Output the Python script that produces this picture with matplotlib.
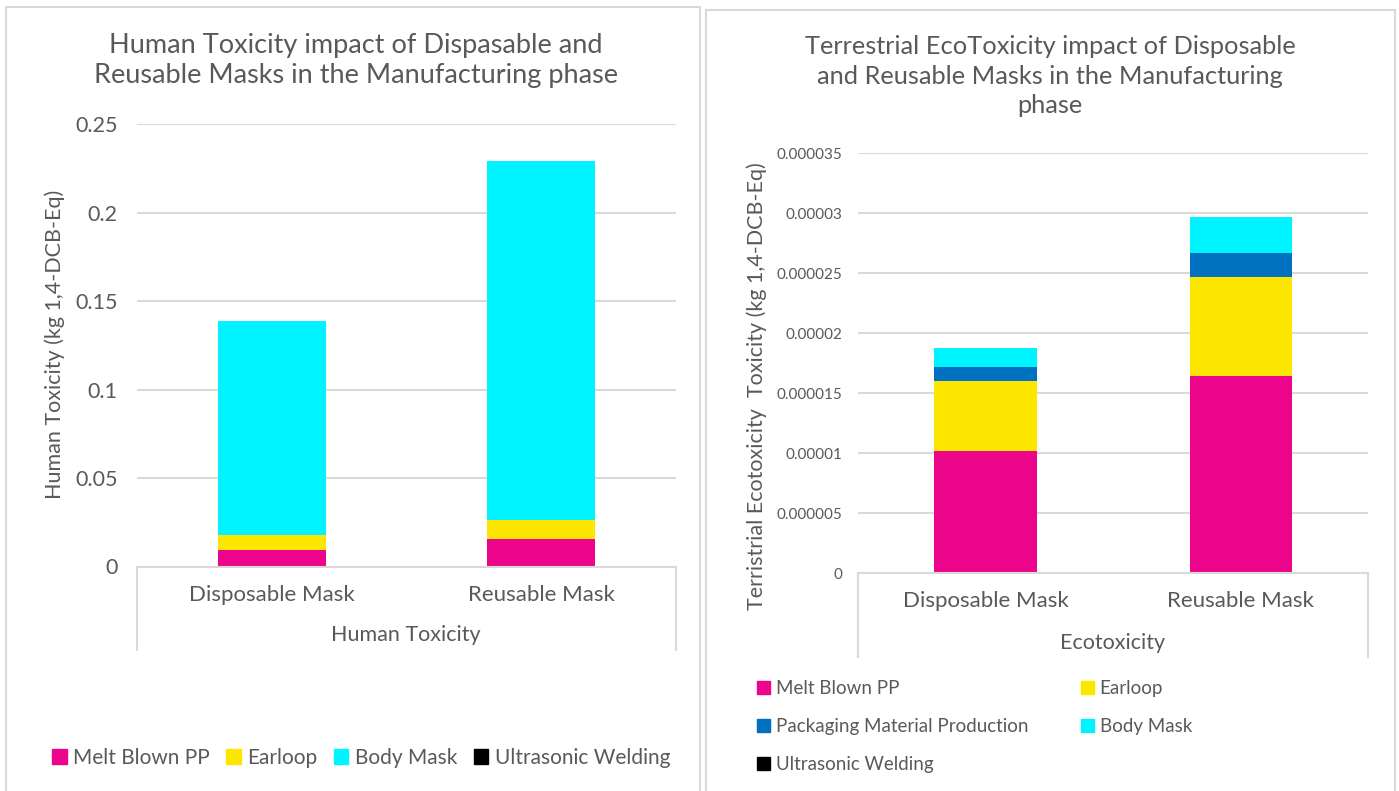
import matplotlib
matplotlib.use("Agg")
import matplotlib.pyplot as plt
from matplotlib.patches import Rectangle, Patch
from matplotlib.lines import Line2D

plt.rcParams['font.family'] = ['Lato', 'DejaVu Sans']

# ---------------- data ----------------
categories = ["Disposable Mask", "Reusable Mask"]

# Left chart: Human Toxicity (kg 1,4-DCB-Eq)
ht_melt_blown = [0.0094, 0.0156]
ht_earloop = [0.0085, 0.0106]
ht_body_mask = [0.1207, 0.2029]
ht_ultrasonic = [0.0001, 0.0001]
ht_ticks = [0, 0.05, 0.1, 0.15, 0.2, 0.25]
ht_ticklabels = ["0", "0.05", "0.1", "0.15", "0.2", "0.25"]

# Right chart: Terrestrial Ecotoxicity (kg 1,4-DCB-Eq)
et_melt_blown = [10.19e-6, 16.47e-6]
et_earloop = [5.86e-6, 8.25e-6]
et_packaging = [1.17e-6, 1.95e-6]
et_body_mask = [1.53e-6, 3.05e-6]
et_ultrasonic = [0.01e-6, 0.01e-6]
et_ticks = [0, 0.000005, 0.00001, 0.000015, 0.00002, 0.000025, 0.00003, 0.000035]
et_ticklabels = ["0", "0.000005", "0.00001", "0.000015", "0.00002",
                 "0.000025", "0.00003", "0.000035"]

C_MELT = "#EC058A"
C_EAR = "#FDE700"
C_PACK = "#0070C0"
C_BODY = "#00F4FF"
C_ULTRA = "#000000"
TXT = "#595959"
GRID = "#D9D9D9"

W, H = 1399, 791
fig = plt.figure(figsize=(W / 100, H / 100), dpi=100)


def fx(x):
    return x / W


def fy(y):
    return 1 - y / H


def add_axes_px(l, t, r, b):
    return fig.add_axes([fx(l), fy(b), (r - l) / W, (b - t) / H])


# panel borders
fig.add_artist(Rectangle((fx(6), fy(800)), (700 - 6) / W, (800 - 7) / H,
                         transform=fig.transFigure, fill=False,
                         edgecolor=GRID, lw=1.5))
fig.add_artist(Rectangle((fx(706), fy(800)), (1395 - 706) / W, (800 - 10) / H,
                         transform=fig.transFigure, fill=False,
                         edgecolor=GRID, lw=1.5))


def style_axes(ax, ticks, ticklabels, ymax, pad, fs):
    ax.set_ylim(0, ymax)
    ax.set_xlim(-0.5, 1.5)
    ax.set_yticks(ticks)
    ax.set_yticklabels(ticklabels)
    ax.tick_params(axis='y', length=0, pad=pad, labelsize=fs, labelcolor=TXT)
    ax.set_xticks([0, 1])
    ax.set_xticklabels(categories)
    ax.tick_params(axis='x', length=0, labelsize=16, labelcolor=TXT, pad=13)
    for s in ['top', 'right', 'left']:
        ax.spines[s].set_visible(False)
    ax.spines['bottom'].set_color(GRID)
    ax.spines['bottom'].set_linewidth(1.5)
    ax.grid(axis='y', color=GRID, lw=1.5)
    ax.set_axisbelow(True)


# ---------------- left chart ----------------
axL = add_axes_px(137, 124.3, 676, 566.5)
x = [0, 1]
b = [0, 0]
for vals, col in [(ht_melt_blown, C_MELT), (ht_earloop, C_EAR),
                  (ht_body_mask, C_BODY), (ht_ultrasonic, C_ULTRA)]:
    axL.bar(x, vals, bottom=b, width=0.4, color=col, lw=0)
    b = [bb + v for bb, v in zip(b, vals)]
style_axes(axL, ht_ticks, ht_ticklabels, 0.25, 14, 15.5)

for xx in (137, 676):
    fig.add_artist(Line2D([fx(xx), fx(xx)], [fy(566.5), fy(650)],
                          transform=fig.transFigure, color=GRID, lw=1.5))
fig.text(fx(406), fy(635), "Human Toxicity", ha='center', va='center',
         fontsize=15.5, color=TXT)
fig.text(fx(55), fy(344), "Human Toxicity (kg 1,4-DCB-Eq)", rotation=90,
         ha='center', va='center', fontsize=15.5, color=TXT)
fig.text(fx(356), fy(61), "Human Toxicity impact of Dispasable and\nReusable Masks in the Manufacturing phase",
         ha='center', va='center', fontsize=19.5, color=TXT, linespacing=1.25)

hL = [Patch(color=C_MELT), Patch(color=C_EAR), Patch(color=C_BODY), Patch(color=C_ULTRA)]
fig.legend(hL, ["Melt Blown PP", "Earloop", "Body Mask", "Ultrasonic Welding"],
           loc='center', bbox_to_anchor=(fx(361), fy(758)), ncol=4, frameon=False,
           fontsize=15, labelcolor=TXT, handlelength=0.7, handleheight=0.7,
           handletextpad=0.3, columnspacing=0.8)

# ---------------- right chart ----------------
axR = add_axes_px(858, 153.3, 1368, 573.3)
b = [0, 0]
for vals, col in [(et_melt_blown, C_MELT), (et_earloop, C_EAR),
                  (et_packaging, C_PACK), (et_body_mask, C_BODY),
                  (et_ultrasonic, C_ULTRA)]:
    axR.bar(x, vals, bottom=b, width=0.4, color=col, lw=0)
    b = [bb + v for bb, v in zip(b, vals)]
style_axes(axR, et_ticks, et_ticklabels, 0.000035, 11, 11)

for xx in (858, 1368):
    fig.add_artist(Line2D([fx(xx), fx(xx)], [fy(573.3), fy(657)],
                          transform=fig.transFigure, color=GRID, lw=1.5))
fig.text(fx(1113), fy(643), "Ecotoxicity", ha='center', va='center',
         fontsize=15.5, color=TXT)
fig.text(fx(757), fy(386), "Terristrial Ecotoxicity  Toxicity (kg 1,4-DCB-Eq)",
         rotation=90, ha='center', va='center', fontsize=15.5, color=TXT)
fig.text(fx(1050), fy(76), "Terrestrial EcoToxicity impact of Disposable\nand Reusable Masks in the Manufacturing\nphase",
         ha='center', va='center', fontsize=18.3, color=TXT, linespacing=1.32)

hR = [Patch(color=C_MELT), Patch(color=C_PACK), Patch(color=C_ULTRA),
      Patch(color=C_EAR), Patch(color=C_BODY)]
fig.legend(hR, ["Melt Blown PP", "Packaging Material Production", "Ultrasonic Welding",
                "Earloop", "Body Mask"],
           loc='upper left', bbox_to_anchor=(fx(757), fy(680)), ncol=2, frameon=False,
           fontsize=13.5, labelcolor=TXT, handlelength=0.7, handleheight=0.7,
           handletextpad=0.3, columnspacing=2.8, labelspacing=1.12, borderpad=0,
           borderaxespad=0)

fig.savefig("out.png", dpi=100)
